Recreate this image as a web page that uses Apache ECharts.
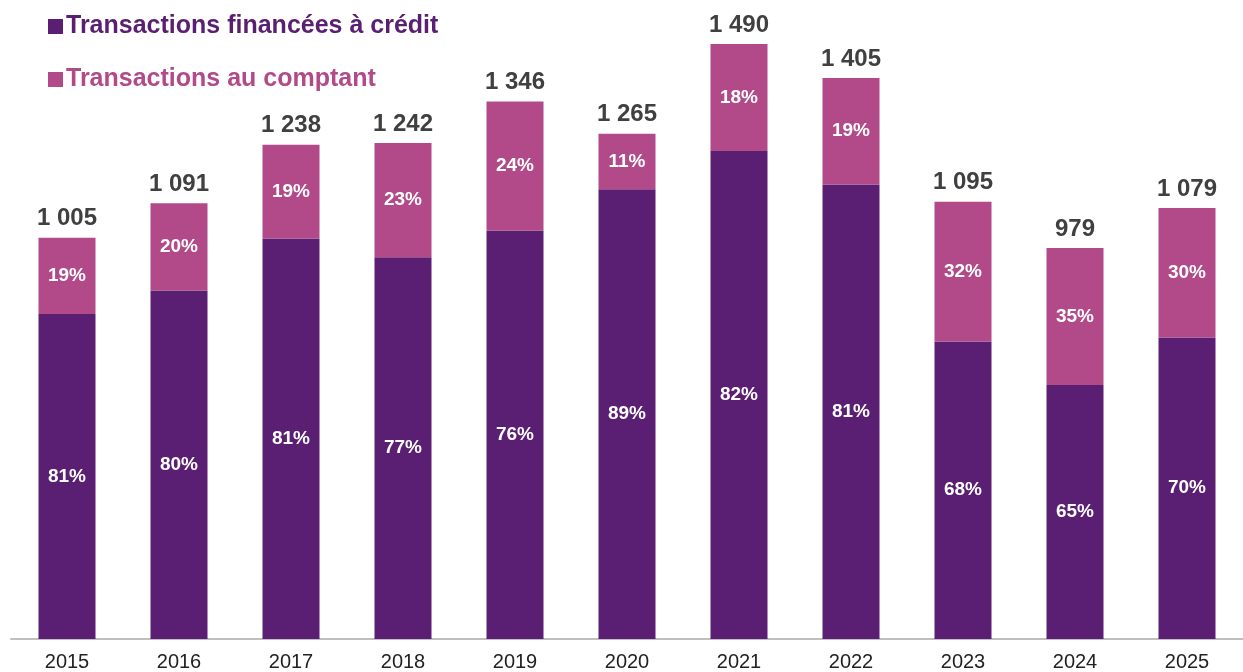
<!DOCTYPE html>
<html>
<head>
<meta charset="utf-8">
<script src="https://cdn.jsdelivr.net/npm/echarts@6/dist/echarts.min.js"></script>
<style>
  html, body { margin: 0; padding: 0; background: #fff; }
  #main { width: 1243px; height: 672px; }
</style>
</head>
<body>
<div id="main"></div>
<script>
// années
var years = ["2015", "2016", "2017", "2018", "2019", "2020", "2021", "2022", "2023", "2024", "2025"];
// total des transactions
var totals = [1005, 1091, 1238, 1242, 1346, 1265, 1490, 1405, 1095, 979, 1079];
// transactions financées à crédit
var creditValues = [814, 873, 1003, 956, 1023, 1126, 1222, 1138, 745, 636, 755];
// transactions au comptant
var cashValues = [191, 218, 235, 286, 323, 139, 268, 267, 350, 343, 324];
// parts affichées
var creditPct = ["81%", "80%", "81%", "77%", "76%", "89%", "82%", "81%", "68%", "65%", "70%"];
var cashPct = ["19%", "20%", "19%", "23%", "24%", "11%", "18%", "19%", "32%", "35%", "30%"];

var creditColor = "#5a1e72";
var cashColor = "#b24a8a";
var font = "'Liberation Sans', Arial, sans-serif";

var myChart = echarts.init(document.getElementById("main"));

myChart.setOption({
  animation: false,
  textStyle: { fontFamily: font },
  legend: {
    orient: "vertical",
    left: 48,
    top: 14,
    padding: 0,
    itemWidth: 15,
    itemHeight: 15,
    itemGap: 28,
    icon: "rect",
    selectedMode: false,
    data: [
      { name: "Transactions financées à crédit", textStyle: { color: creditColor } },
      { name: "Transactions au comptant", textStyle: { color: cashColor } }
    ],
    textStyle: { fontSize: 25, fontWeight: "bold", fontFamily: font, padding: [0, 0, 0, -2] }
  },
  grid: {
    left: 11,
    right: -12,
    top: 40,
    bottom: 30,
    containLabel: false
  },
  xAxis: {
    type: "category",
    data: years,
    axisTick: { show: false },
    axisLine: { lineStyle: { color: "#bfbfbf", width: 2 } },
    axisLabel: {
      color: "#222",
      fontSize: 20,
      margin: 13,
      fontFamily: font
    }
  },
  yAxis: {
    type: "value",
    min: 0,
    max: 1500,
    show: false,
    splitLine: { show: false }
  },
  series: [
    {
      name: "Transactions financées à crédit",
      type: "bar",
      stack: "total",
      barWidth: 57,
      itemStyle: { color: creditColor },
      label: {
        show: true,
        position: "inside",
        color: "#fff",
        fontSize: 19,
        fontWeight: "bold",
        formatter: function (p) { return creditPct[p.dataIndex]; }
      },
      data: creditValues
    },
    {
      name: "Transactions au comptant",
      type: "bar",
      stack: "total",
      barWidth: 57,
      itemStyle: { color: cashColor },
      label: {
        show: true,
        position: "inside",
        color: "#fff",
        fontSize: 19,
        fontWeight: "bold",
        formatter: function (p) { return cashPct[p.dataIndex]; }
      },
      data: cashValues
    },
    {
      // étiquettes des totaux
      name: "total",
      type: "bar",
      stack: "total",
      barWidth: 57,
      silent: true,
      itemStyle: { color: "transparent" },
      label: {
        show: true,
        position: "insideBottom",
        distance: 7,
        color: "#404040",
        fontSize: 24,
        fontWeight: "bold",
        formatter: function (p) {
          return String(totals[p.dataIndex]).replace(/\B(?=(\d{3})+(?!\d))/g, " ");
        }
      },
      data: totals.map(function () { return 0; })
    }
  ]
});
</script>
</body>
</html>
